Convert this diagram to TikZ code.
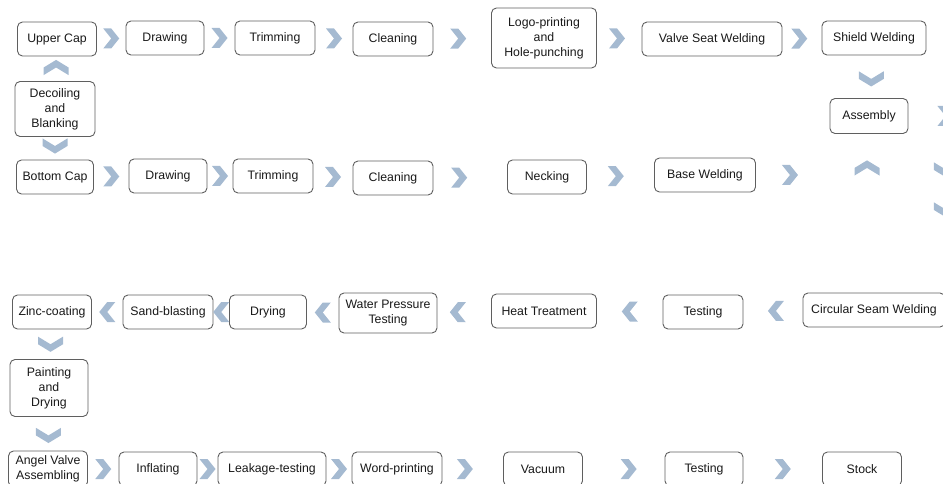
\documentclass[tikz,border=0pt]{standalone}
\usepackage{fontspec}
\setmainfont{Liberation Sans}
\usetikzlibrary{calc}
\definecolor{chevblue}{RGB}{165,186,209}
\definecolor{boxline}{RGB}{95,95,95}

\begin{document}
\begin{tikzpicture}[x=1pt,y=-1pt,
    procbox/.style = {draw=boxline, line width=0.9pt, rounded corners=5pt,
                      fill=white, align=center, text=black!90,
                      font=\fontsize{12.3}{15}\selectfont,
                      minimum height=34pt, inner xsep=2pt, inner ysep=2pt},
    chev/.pic      = {\fill[chevblue] (-8,10) -- (0,10) -- (8,0) -- (0,-10)
                      -- (-8,-10) -- (0,0) -- cycle;},
    goright/.style = {},
    goleft/.style  = {rotate=180},
    goup/.style    = {rotate=90, yscale=1.25, xscale=0.95},
    godown/.style  = {rotate=-90, yscale=1.25, xscale=0.95}]
  \useasboundingbox (0,0) rectangle (943,484);
  \clip (0,0) rectangle (943,484);

  % upper cap line
  \node[procbox, minimum width=79]  (upcap)   at (57,39)  {Upper Cap};
  \node[procbox, minimum width=78]  (updraw)  at (165,38) {Drawing};
  \node[procbox, minimum width=80]  (uptrim)  at (275,38) {Trimming};
  \node[procbox, minimum width=80]  (upclean) at (393,39) {Cleaning};
  \node[procbox, minimum width=105, minimum height=60] (logo) at (544,38)
        {Logo-printing\\and\\Hole-punching};
  \node[procbox, minimum width=140] (valve)   at (712,39) {Valve Seat Welding};
  \node[procbox, minimum width=104] (shield)  at (874,38) {Shield Welding};
  \node[procbox, minimum width=78, minimum height=35] (assembly) at (869,116) {Assembly};
  \node[procbox, minimum width=80, minimum height=55] (decoil) at (55,109)
        {Decoiling\\and\\Blanking};

  % bottom cap line
  \node[procbox, minimum width=77]  (botcap)   at (55,177)  {Bottom Cap};
  \node[procbox, minimum width=78]  (botdraw)  at (168,176) {Drawing};
  \node[procbox, minimum width=80]  (bottrim)  at (273,176) {Trimming};
  \node[procbox, minimum width=80]  (botclean) at (393,178) {Cleaning};
  \node[procbox, minimum width=79]  (necking)  at (547,177) {Necking};
  \node[procbox, minimum width=101] (basewld)  at (705,175) {Base Welding};

  % return line
  \node[procbox, minimum width=79]  (zinc)   at (52,312)  {Zinc-coating};
  \node[procbox, minimum width=90]  (sand)   at (168,312) {Sand-blasting};
  \node[procbox, minimum width=77]  (drying) at (268,312) {Drying};
  \node[procbox, minimum width=98, minimum height=40] (water) at (388,313)
        {Water Pressure\\Testing};
  \node[procbox, minimum width=105] (heat)   at (544,311) {Heat Treatment};
  \node[procbox, minimum width=80]  (testA)  at (703,312) {Testing};
  \node[procbox, minimum width=142] (circ)   at (874,310) {Circular Seam Welding};
  \node[procbox, minimum width=78, minimum height=57] (paint) at (49,388)
        {Painting\\and\\Drying};

  % final line
  \node[procbox, minimum width=79, minimum height=36] (angel) at (48,469)
        {Angel Valve\\Assembling};
  \node[procbox, minimum width=78]  (inflate) at (158,469) {Inflating};
  \node[procbox, minimum width=108] (leak)    at (272,469) {Leakage-testing};
  \node[procbox, minimum width=90]  (word)    at (397,469) {Word-printing};
  \node[procbox, minimum width=79]  (vacuum)  at (543,469) {Vacuum};
  \node[procbox, minimum width=78]  (testB)   at (704,469) {Testing};
  \node[procbox, minimum width=79]  (stock)   at (862,469) {Stock};

  % chevrons
  \pic[goright] at ($(upcap.east)!.5!(updraw.west)$)     {chev};
  \pic[goright] at ($(updraw.east)!.5!(uptrim.west)$)    {chev};
  \pic[goright] at ($(uptrim.east)!.5!(upclean.west)$)   {chev};
  \pic[goright] at ($(upclean.east)!.43!(logo.west)$)    {chev};
  \pic[goright] at ($(logo.east)!.45!(valve.west)$)      {chev};
  \pic[goright] at ($(valve.east)!.43!(shield.west)$)    {chev};
  \pic[godown]  at ($(shield.south)!.55!(assembly.north)$) {chev};
  \pic[goup]    at ($(decoil.north)!.55!(upcap.south)$)  {chev};
  \pic[godown]  at ($(decoil.south)!.4!(botcap.north)$)  {chev};

  \pic[goright] at ($(botcap.east)!.5!(botdraw.west)$)    {chev};
  \pic[goright] at ($(botdraw.east)!.5!(bottrim.west)$)   {chev};
  \pic[goright] at ($(bottrim.east)!.5!(botclean.west)$)  {chev};
  \pic[goright] at ($(botclean.east)!.35!(necking.west)$) {chev};
  \pic[goright] at ($(necking.east)!.43!(basewld.west)$)  {chev};
  \pic[goright] at ($(basewld.east)+(34,0)$)   {chev};
  \pic[goup]    at ($(assembly.south)+(-2,34)$) {chev};
  \pic[goright] at ($(assembly.east)+(37,0)$)  {chev};
  \pic[godown]  at ($(assembly.east)+(38,54)$) {chev};
  \pic[godown]  at ($(assembly.east)+(38,94)$) {chev};

  \pic[goleft] at ($(zinc.east)!.5!(sand.west)$)    {chev};
  \pic[goleft] at ($(sand.east)!.5!(drying.west)$)  {chev};
  \pic[goleft] at ($(drying.east)!.5!(water.west)$) {chev};
  \pic[goleft] at ($(water.east)!.38!(heat.west)$)  {chev};
  \pic[goleft] at ($(heat.east)!.5!(testA.west)$)   {chev};
  \pic[goleft] at ($(testA.east)!.55!(circ.west)$)  {chev};
  \pic[godown] at ($(zinc.south)!.5!(paint.north)$)  {chev};
  \pic[godown] at ($(paint.south)!.55!(angel.north)$) {chev};

  \pic[goright] at ($(angel.east)!.5!(inflate.west)$)  {chev};
  \pic[goright] at ($(inflate.east)!.5!(leak.west)$)   {chev};
  \pic[goright] at ($(leak.east)!.5!(word.west)$)      {chev};
  \pic[goright] at ($(word.east)!.37!(vacuum.west)$)   {chev};
  \pic[goright] at ($(vacuum.east)!.56!(testB.west)$)  {chev};
  \pic[goright] at ($(testB.east)!.5!(stock.west)$)    {chev};
\end{tikzpicture}
\end{document}
